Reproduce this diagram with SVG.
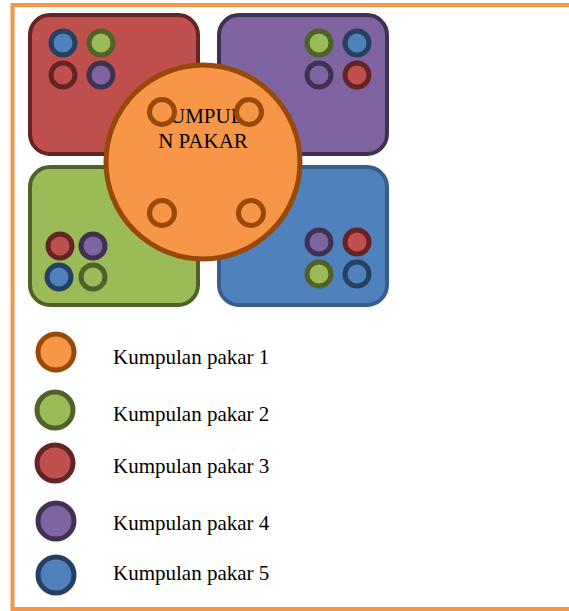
<svg xmlns="http://www.w3.org/2000/svg" width="569" height="611" viewBox="0 0 569 611">
  <style>
    .lbl { font-family: "Liberation Serif", "Times New Roman", serif; font-size: 21px; fill: #000; }
    .box { stroke-width: 4; }
    .dot { stroke-width: 5; }
    .o { fill: #F79646; stroke: #984807; }
    .g { fill: #9BBB59; stroke: #4F6228; }
    .r { fill: #C0504D; stroke: #632523; }
    .p { fill: #8064A2; stroke: #3F3151; }
    .b { fill: #4F81BD; stroke: #254061; }
  </style>

  <!-- outer frame -->
  <rect x="12.5" y="5" width="600" height="604" fill="#fff" stroke="#F79646" stroke-width="4"/>

  <!-- quadrant groups -->
  <g id="group-red">
    <rect class="box" x="30" y="15" width="168" height="139" rx="20" fill="#C0504D" stroke="#632523"/>
    <circle class="dot b" cx="63" cy="43" r="12"/>
    <circle class="dot g" cx="101" cy="43" r="12"/>
    <circle class="dot r" cx="63" cy="75" r="12"/>
    <circle class="dot p" cx="101" cy="75" r="12"/>
  </g>
  <g id="group-purple">
    <rect class="box" x="219" y="15" width="168" height="139" rx="20" fill="#8064A2" stroke="#3F3151"/>
    <circle class="dot g" cx="319" cy="43" r="12"/>
    <circle class="dot b" cx="357" cy="43" r="12"/>
    <circle class="dot p" cx="319" cy="75" r="12"/>
    <circle class="dot r" cx="357" cy="75" r="12"/>
  </g>
  <g id="group-green">
    <rect class="box" x="30" y="167" width="168" height="138" rx="20" fill="#9BBB59" stroke="#4F6228"/>
    <circle class="dot r" cx="60" cy="246" r="12"/>
    <circle class="dot p" cx="93" cy="246" r="12"/>
    <circle class="dot b" cx="59" cy="277" r="12"/>
    <circle class="dot g" cx="93" cy="277" r="12"/>
  </g>
  <g id="group-blue">
    <rect class="box" x="219" y="167" width="168" height="138" rx="20" fill="#4F81BD" stroke="#385D8A"/>
    <circle class="dot p" cx="319" cy="242" r="12"/>
    <circle class="dot r" cx="357" cy="242" r="12"/>
    <circle class="dot g" cx="319" cy="274" r="12"/>
    <circle class="dot b" cx="357" cy="274" r="12"/>
  </g>

  <!-- central cluster -->
  <g id="group-center">
    <circle cx="203" cy="162" r="97" fill="#F79646" stroke="#984807" stroke-width="5"/>
    <text class="lbl" x="170" y="123">UMPUL</text>
    <text class="lbl" x="203" y="148" text-anchor="middle">N PAKAR</text>
    <circle class="dot o" cx="162" cy="112" r="12.5"/>
    <circle class="dot o" cx="249" cy="112" r="12.5"/>
    <circle class="dot o" cx="162" cy="213" r="12.5"/>
    <circle class="dot o" cx="251" cy="213" r="12.5"/>
  </g>

  <!-- legend -->
  <g id="legend-1">
    <circle class="dot o" cx="56" cy="352" r="18"/>
    <text class="lbl" x="113" y="364">Kumpulan pakar 1</text>
  </g>
  <g id="legend-2">
    <circle class="dot g" cx="55" cy="410" r="18"/>
    <text class="lbl" x="113" y="421">Kumpulan pakar 2</text>
  </g>
  <g id="legend-3">
    <circle class="dot r" cx="55" cy="463" r="18"/>
    <text class="lbl" x="113" y="473">Kumpulan pakar 3</text>
  </g>
  <g id="legend-4">
    <circle class="dot p" cx="56" cy="521" r="18"/>
    <text class="lbl" x="113" y="530">Kumpulan pakar 4</text>
  </g>
  <g id="legend-5">
    <circle class="dot b" cx="56" cy="575" r="18"/>
    <text class="lbl" x="113" y="580">Kumpulan pakar 5</text>
  </g>

  <g id="connectors"/>
</svg>
